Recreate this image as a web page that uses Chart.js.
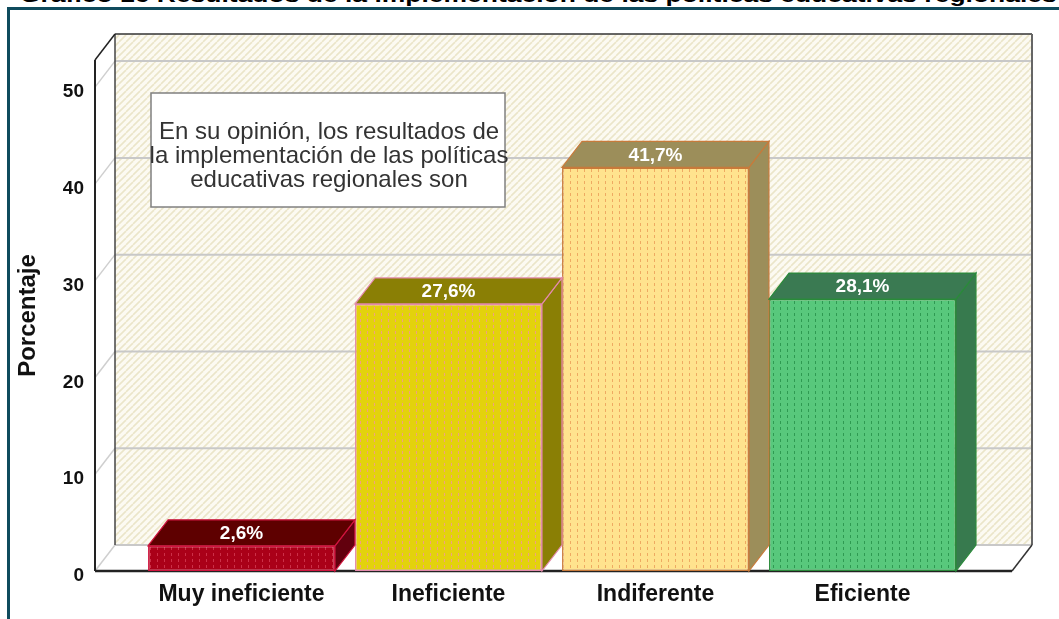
<!DOCTYPE html>
<html>
<head>
<meta charset="utf-8">
<script src="https://cdn.jsdelivr.net/npm/chart.js@4.4.1/dist/chart.umd.min.js"></script>
<style>
  body { margin: 0; background: #fff; overflow: hidden; width: 1059px; height: 619px; position: relative; font-family: Arial, "Liberation Sans", sans-serif; }
  #title { position: absolute; left: 20px; top: -15px; font-weight: bold; font-size: 21px; line-height: 20px; white-space: nowrap; color: #000; transform: scaleX(1.26); transform-origin: left top; }
  #frame { position: absolute; left: 7px; top: 7px; width: 1200px; height: 800px; border: 3px solid #0f4b5d; }
  canvas { position: absolute; left: 0; top: 0; }
</style>
</head>
<body>
<div id="title">Gráfico 16 Resultados de la implementación de las políticas educativas regionales</div>
<div id="frame"></div>
<canvas id="chart" width="1059" height="619"></canvas>
<script>
// data
const categories = ['Muy ineficiente', 'Ineficiente', 'Indiferente', 'Eficiente'];
const percentages = [2.6, 27.6, 41.7, 28.1];
const yTickStep = 10;
const yMax = 52.8;
const boxLines = ['En su opinión, los resultados de', 'la implementación de las políticas', 'educativas regionales son'];

// colours for each bar: front, dots, top, side, border
const frontColors = ['#aa0018', '#e3d20c', '#ffe38e', '#58c87c'];
const dotColors = ['#cc3048', '#f0a080', '#eeaa62', '#2f9a52'];
const topColors = ['#5e0000', '#8a7f05', '#9c8e5a', '#3a7a52'];
const sideColors = ['#62000e', '#8a7f05', '#9c8e5a', '#377a4e'];
const borderColors = ['#d0143e', '#e48aac', '#c87a3a', '#2a8a3a'];

const DX = 20, DY = 26;
Chart.defaults.font.family = 'Arial, "Liberation Sans", sans-serif';

const canvas = document.getElementById('chart');
const mainCtx = canvas.getContext('2d');

function dotPattern(base, dot) {
  const c = document.createElement('canvas');
  c.width = 7; c.height = 6;
  const g = c.getContext('2d');
  g.fillStyle = base; g.fillRect(0, 0, 7, 6);
  g.fillStyle = dot; g.fillRect(3, 1, 1, 3);
  return mainCtx.createPattern(c, 'repeat');
}

function hatchPattern() {
  const c = document.createElement('canvas');
  c.width = 7; c.height = 7;
  const g = c.getContext('2d');
  g.fillStyle = '#fcfaf2'; g.fillRect(0, 0, 7, 7);
  g.strokeStyle = '#ebe5c9'; g.lineWidth = 1.6;
  for (const o of [-7, 0, 7]) {
    g.beginPath(); g.moveTo(o, 7); g.lineTo(o + 7, 0); g.stroke();
  }
  return mainCtx.createPattern(c, 'repeat');
}

function line(ctx, x1, y1, x2, y2, color, w) {
  ctx.beginPath(); ctx.moveTo(x1, y1); ctx.lineTo(x2, y2);
  ctx.strokeStyle = color; ctx.lineWidth = w; ctx.stroke();
}

function poly(ctx, pts, fill, stroke) {
  ctx.beginPath();
  ctx.moveTo(pts[0][0], pts[0][1]);
  for (let i = 1; i < pts.length; i++) ctx.lineTo(pts[i][0], pts[i][1]);
  ctx.closePath();
  ctx.fillStyle = fill; ctx.fill();
  if (stroke) { ctx.strokeStyle = stroke; ctx.lineWidth = 1.2; ctx.stroke(); }
}

// 3d walls, bar tops/sides, labels and the note box
const threeD = {
  id: 'threeD',
  beforeDatasetsDraw(chart) {
    const ctx = chart.ctx, ca = chart.chartArea, ys = chart.scales.y;
    const fx0 = ca.left - 43, fx1 = ca.right + 46;
    const y0 = ys.getPixelForValue(0), yTop = ca.top;
    const bx0 = fx0 + DX, bx1 = fx1 + DX;
    ctx.save();
    ctx.fillStyle = hatchPattern();
    ctx.fillRect(bx0, yTop - DY, bx1 - bx0, y0 - yTop);
    poly(ctx, [[fx0, y0], [fx1, y0], [bx1, y0 - DY], [bx0, y0 - DY]], '#fff');
    ys.ticks.forEach(t => {
      const py = ys.getPixelForValue(t.value);
      line(ctx, bx0, py - DY, bx1, py - DY, '#c8c8c8', 2);
      line(ctx, fx0, py, bx0, py - DY, '#cfcfcf', 1.5);
    });
    line(ctx, bx0, yTop - DY, bx0, y0 - DY, '#444', 1.5);
    line(ctx, bx0, yTop - DY, bx1, yTop - DY, '#333', 1.5);
    line(ctx, bx1, yTop - DY, bx1, y0 - DY, '#666', 2);
    line(ctx, fx1, y0, bx1, y0 - DY, '#333', 1.5);
    line(ctx, fx0, yTop, bx0, yTop - DY, '#222', 1.5);
    line(ctx, fx0, yTop, fx0, y0, '#222', 2);
    line(ctx, fx0, y0, fx1, y0, '#222', 2.5);
    ctx.restore();
  },
  afterDatasetsDraw(chart) {
    const ctx = chart.ctx;
    const meta = chart.getDatasetMeta(0);
    ctx.save();
    meta.data.forEach((bar, i) => {
      const p = bar.getProps(['x', 'y', 'width', 'base'], true);
      const l = p.x - p.width / 2, r = p.x + p.width / 2;
      poly(ctx, [[r, p.y], [r + DX, p.y - DY], [r + DX, p.base - DY], [r, p.base]], sideColors[i], borderColors[i]);
      poly(ctx, [[l, p.y], [l + DX, p.y - DY], [r + DX, p.y - DY], [r, p.y]], topColors[i], borderColors[i]);
      ctx.fillStyle = '#fff';
      ctx.font = 'bold 19px Arial, "Liberation Sans", sans-serif';
      ctx.textAlign = 'center'; ctx.textBaseline = 'middle';
      const txt = percentages[i].toFixed(1).replace('.', ',') + '%';
      ctx.fillText(txt, p.x, p.y - DY / 2 + 1);
    });
    // note box
    ctx.fillStyle = '#fff';
    ctx.fillRect(151, 93, 354, 114);
    ctx.strokeStyle = '#808080'; ctx.lineWidth = 1.5;
    ctx.strokeRect(151, 93, 354, 114);
    ctx.fillStyle = '#333';
    ctx.font = '24px Arial, "Liberation Sans", sans-serif';
    boxLines.forEach((s, k) => ctx.fillText(s, 329, 132 + k * 24));
    ctx.restore();
  }
};

new Chart(canvas, {
  type: 'bar',
  data: {
    labels: categories,
    datasets: [{
      data: percentages,
      backgroundColor: frontColors.map((c, i) => dotPattern(c, dotColors[i])),
      borderColor: borderColors,
      borderWidth: 1.5,
      borderSkipped: false,
      barPercentage: 0.903,
      categoryPercentage: 1
    }]
  },
  options: {
    responsive: false,
    animation: false,
    layout: { padding: { left: 10, top: 60, right: 93, bottom: 0 } },
    plugins: { legend: { display: false }, tooltip: { enabled: false } },
    scales: {
      x: {
        grid: { display: false, drawTicks: false },
        border: { display: false },
        ticks: { color: '#111', padding: 10, font: { size: 23, weight: 'bold' } },
        afterFit: s => { s.height = 48; s.paddingLeft = 0; s.paddingRight = 0; }
      },
      y: {
        min: 0,
        max: yMax,
        grid: { display: false, drawTicks: false },
        border: { display: false },
        ticks: { stepSize: yTickStep, includeBounds: false, color: '#111', padding: 54, labelOffset: 5, font: { size: 19, weight: 'bold' } },
        title: { display: true, text: 'Porcentaje', color: '#111', font: { size: 24, weight: 'bold' } },
        afterFit: s => { s.width = 128; s.paddingTop = 0; s.paddingBottom = 0; }
      }
    }
  },
  plugins: [threeD]
});
</script>
</body>
</html>
